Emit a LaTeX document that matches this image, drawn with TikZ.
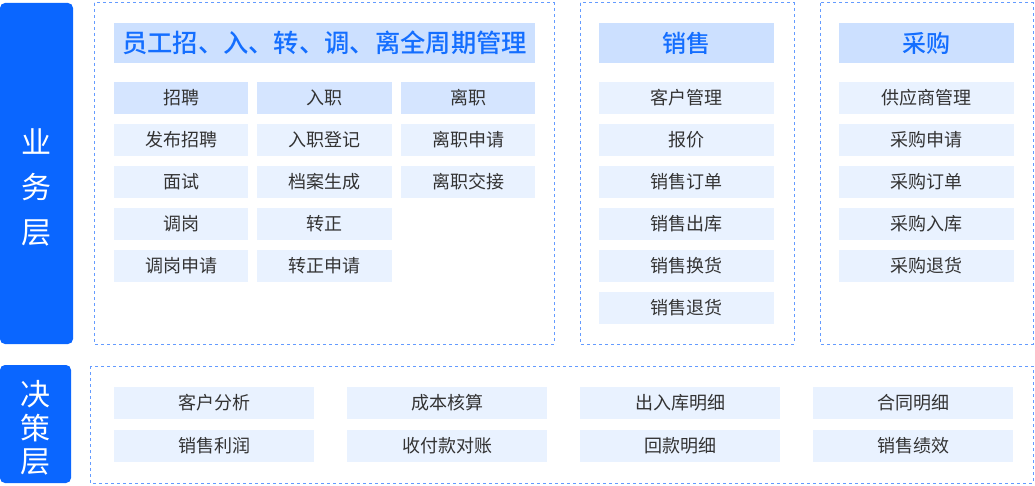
\documentclass[tikz,border=0pt]{standalone}
\usepackage{fontspec}
\setmainfont{Noto Sans CJK SC}
\newfontfamily\medfont{Noto Sans CJK SC Medium}
\usetikzlibrary{positioning}

\definecolor{layerblue}{RGB}{10,102,255}
\definecolor{dashblue}{RGB}{100,155,255}
\definecolor{titlefill}{RGB}{204,224,255}
\definecolor{titletext}{RGB}{20,110,255}
\definecolor{headfill}{RGB}{213,229,255}
\definecolor{cellfill}{RGB}{233,242,255}
\definecolor{celltext}{RGB}{51,51,51}

\tikzset{
  layerbar/.style={fill=layerblue, rounded corners=5pt, inner sep=0pt},
  layertext/.style={text=white, align=center, inner sep=0pt},
  groupbox/.style={draw=dashblue, line width=1pt, dash pattern=on 3pt off 3pt},
  titlebox/.style={fill=titlefill, text=titletext, inner sep=0pt, minimum height=40pt},
  cell/.style={fill=cellfill, text=celltext, inner sep=0pt, minimum height=32pt,
    font=\fontsize{18}{20}\selectfont},
  headcell/.style={cell, fill=headfill}
}

\begin{document}
\begin{tikzpicture}[x=1pt, y=-1pt]
  \useasboundingbox (0,0) rectangle (1035,486);

  %% Left: layer bars
  \node[layerbar, minimum width=73pt, minimum height=341pt] (bizbar) at (36.5,173.5) {};
  \node[layertext, font=\fontsize{30}{45}\selectfont] (biztext) at (36.5,187) {业\\务\\层};
  \node[layerbar, minimum width=71pt, minimum height=118pt] (decbar) at (35.5,424) {};
  \node[layertext, font=\fontsize{30}{33.5}\selectfont] (dectext) at (35.5,428) {决\\策\\层};

  %% Dashed group boxes
  \draw[groupbox] (94,3) rectangle (554,344);
  \draw[groupbox] (580,3) rectangle (794,344);
  \draw[groupbox] (820,3) rectangle (1033,344);
  \draw[groupbox] (90,366) rectangle (1033,483);

  %% Staff management
  \node[titlebox, minimum width=421pt, font=\medfont\fontsize{25.3}{30}\selectfont] (hrtitle) at (324.5,43) {员工招、入、转、调、离全周期管理};
  \node[headcell, minimum width=134pt] (recruit) at (181,98) {招聘};
  \node[headcell, minimum width=135pt] (onboard) at (324.5,98) {入职};
  \node[headcell, minimum width=134pt] (leave) at (468,98) {离职};
  \foreach \txt [count=\i] in {发布招聘, 面试, 调岗, 调岗申请}
    \node[cell, minimum width=134pt] (recruit\i) at (181,98+42*\i) {\txt};
  \foreach \txt [count=\i] in {入职登记, 档案生成, 转正, 转正申请}
    \node[cell, minimum width=135pt] (onboard\i) at (324.5,98+42*\i) {\txt};
  \foreach \txt [count=\i] in {离职申请, 离职交接}
    \node[cell, minimum width=134pt] (leave\i) at (468,98+42*\i) {\txt};

  %% Sales
  \node[titlebox, minimum width=175pt, font=\medfont\fontsize{24}{28}\selectfont] (salestitle) at (686.5,43) {销售};
  \foreach \txt [count=\i from 0] in {客户管理, 报价, 销售订单, 销售出库, 销售换货, 销售退货}
    \node[cell, minimum width=175pt] (sales\i) at (686.5,98+42*\i) {\txt};

  %% Purchase
  \node[titlebox, minimum width=175pt, font=\medfont\fontsize{24}{28}\selectfont] (buytitle) at (926.5,43) {采购};
  \foreach \txt [count=\i from 0] in {供应商管理, 采购申请, 采购订单, 采购入库, 采购退货}
    \node[cell, minimum width=175pt] (buy\i) at (926.5,98+42*\i) {\txt};

  %% Decision layer
  \foreach \top/\bot [count=\i from 0] in {客户分析/销售利润, 成本核算/收付款对账, 出入库明细/回款明细, 合同明细/销售绩效} {
    \node[cell, minimum width=200pt] (dectop\i) at (214+233*\i,403) {\top};
    \node[cell, minimum width=200pt] (decbot\i) at (214+233*\i,445.5) {\bot};
  }

\end{tikzpicture}
\end{document}
